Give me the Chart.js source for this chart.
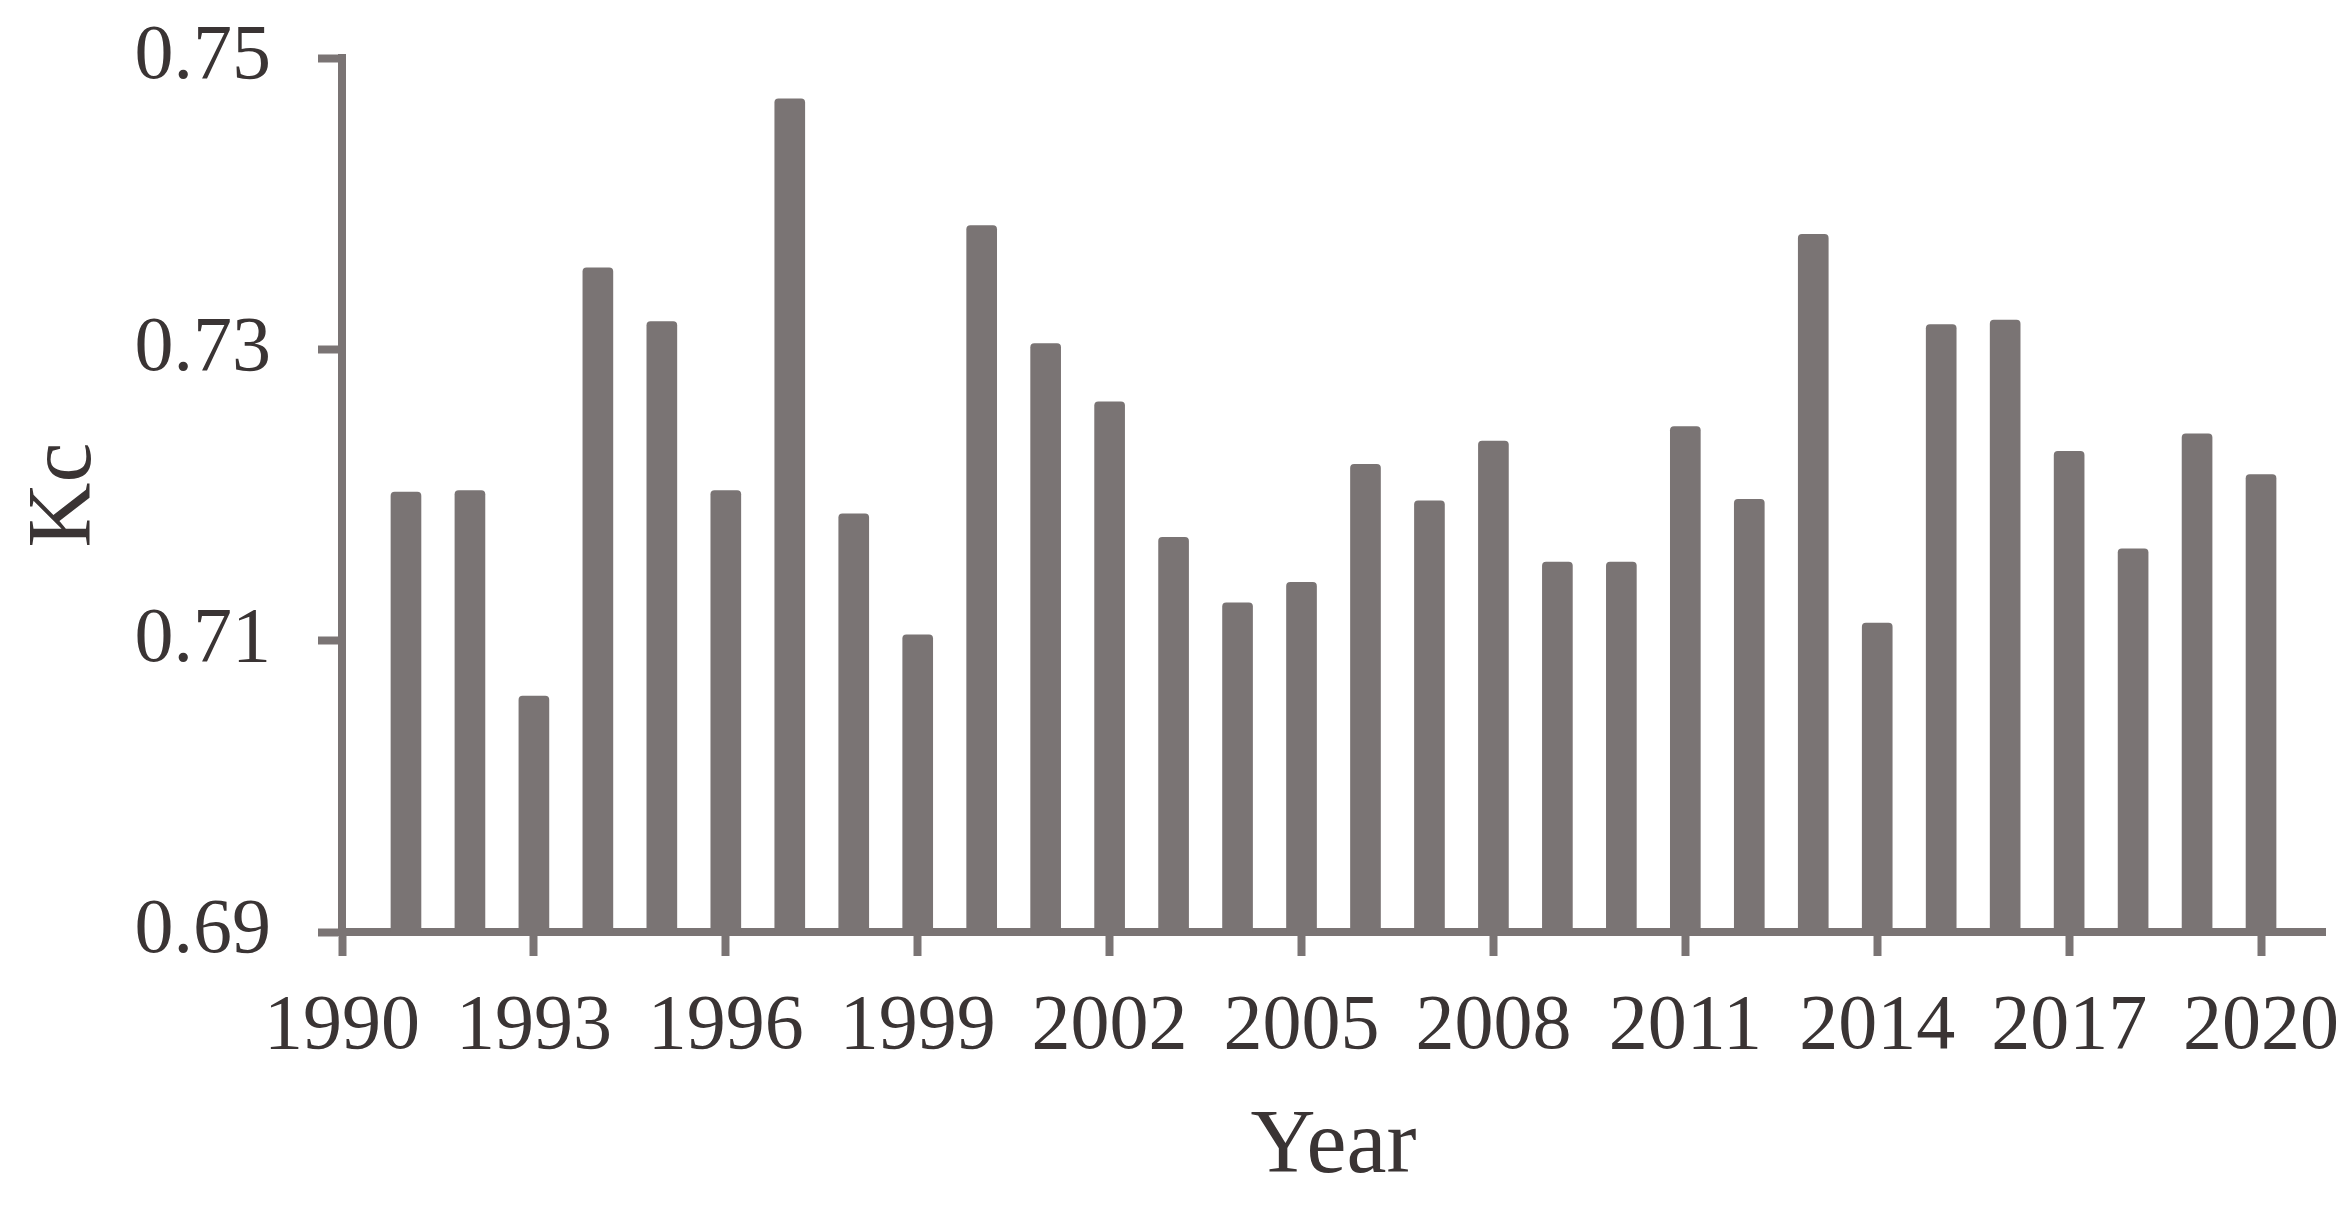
<!DOCTYPE html>
<html>
<head>
<meta charset="utf-8">
<script src="https://cdn.jsdelivr.net/npm/chart.js@4.4.1/dist/chart.umd.min.js"></script>
<style>
    html, body { margin: 0; padding: 0; background: #ffffff; }
    #wrap { width: 2352px; height: 1211px; }
</style>
</head>
<body>
<div id="wrap"><canvas id="kcChart" width="2352" height="1211"></canvas></div>
<script>
const years = [1991, 1992, 1993, 1994, 1995, 1996, 1997, 1998, 1999, 2000,
               2001, 2002, 2003, 2004, 2005, 2006, 2007, 2008, 2009, 2010,
               2011, 2012, 2013, 2014, 2015, 2016, 2017, 2018, 2019, 2020];
const kcValues = [0.7202, 0.7203, 0.7062, 0.7356, 0.7319, 0.7203, 0.7472, 0.7187, 0.7104, 0.7385,
                  0.7304, 0.7264, 0.7171, 0.7126, 0.7140, 0.7221, 0.7196, 0.7237, 0.7154, 0.7154,
                  0.7247, 0.7197, 0.7379, 0.7112, 0.7317, 0.7320, 0.7230, 0.7163, 0.7242, 0.7214];
const xTicks = [1990, 1993, 1996, 1999, 2002, 2005, 2008, 2011, 2014, 2017, 2020];
const yTicks = [0.69, 0.71, 0.73, 0.75];

const barColor = '#7a7474';
const textColor = '#3a3434';
const fontFamily = '"Liberation Serif", "Times New Roman", serif';

const points = years.map((y, i) => ({ x: y, y: kcValues[i] }));

// axis lines and tick marks share the bar colour
const axisGrid = {
    display: true, drawOnChartArea: false, drawTicks: true, offset: false,
    tickLength: 24, tickWidth: 8, tickColor: barColor
};

new Chart(document.getElementById('kcChart'), {
    type: 'bar',
    data: {
        datasets: [{
            data: points,
            backgroundColor: barColor,
            barThickness: 30,
            borderRadius: { topLeft: 4, topRight: 4, bottomLeft: 0, bottomRight: 0 },
            borderSkipped: 'bottom'
        }]
    },
    options: {
        responsive: false,
        animation: false,
        layout: { padding: { top: 58, right: 27, bottom: 0, left: 0 } },
        plugins: { legend: { display: false }, tooltip: { enabled: false } },
        scales: {
            x: {
                type: 'linear',
                min: 1990, max: 2021,
                offset: false,
                afterBuildTicks: axis => { axis.ticks = xTicks.map(v => ({ value: v })); },
                afterFit: axis => {
                    axis.height = 279;
                    axis.paddingLeft = 0;
                    axis.paddingRight = 0;
                },
                ticks: {
                    color: textColor,
                    font: { family: fontFamily, size: 78 },
                    padding: 25,
                    maxRotation: 0,
                    autoSkip: false,
                    callback: v => String(v)
                },
                grid: axisGrid,
                border: { display: true, color: barColor, width: 8 },
                title: {
                    display: true, text: 'Year', color: textColor,
                    font: { family: fontFamily, size: 90 },
                    padding: { top: 0, bottom: 9 }
                }
            },
            y: {
                min: 0.69, max: 0.75,
                afterBuildTicks: axis => { axis.ticks = yTicks.map(v => ({ value: v })); },
                afterFit: axis => {
                    axis.width = 342;
                    axis.paddingTop = 0;
                    axis.paddingBottom = 0;
                },
                ticks: {
                    color: textColor,
                    font: { family: fontFamily, size: 78 },
                    padding: 47,
                    callback: v => v.toFixed(2)
                },
                grid: axisGrid,
                border: { display: true, color: barColor, width: 8 },
                title: {
                    display: true, text: 'Kc', color: textColor,
                    font: { family: fontFamily, size: 90 },
                    padding: { top: 12, bottom: 0 }
                }
            }
        }
    }
});
</script>
</body>
</html>
